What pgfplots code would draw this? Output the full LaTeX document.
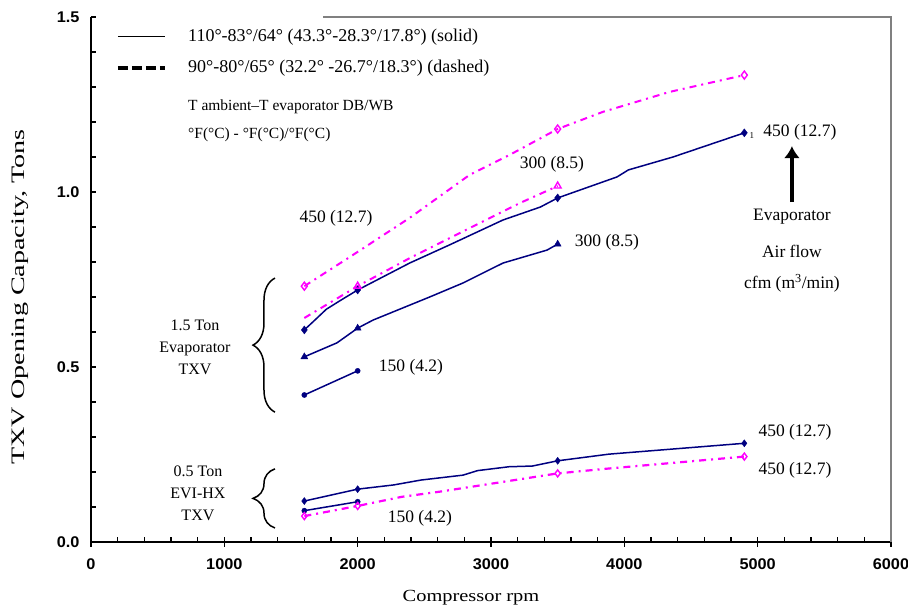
\documentclass[border=0pt]{standalone}
\usepackage{fontspec}
\setmainfont{Liberation Serif}
\setsansfont{Liberation Sans}
\usepackage{graphicx}
\usepackage{pgfplots}
\pgfplotsset{compat=1.18}
\usetikzlibrary{arrows.meta,decorations.pathreplacing}
\definecolor{navy}{RGB}{0,0,128}
\definecolor{mag}{RGB}{255,0,255}
\definecolor{framegray}{RGB}{128,128,128}
\newcommand{\lbl}{\fontsize{17.5}{21}\selectfont}
\newcommand{\leg}{\fontsize{18}{21}\selectfont}
\newcommand{\legs}{\fontsize{15.5}{18}\selectfont}
\newcommand{\side}{\fontsize{16}{22}\selectfont}
\newcommand{\tkf}{\fontsize{15.5}{16}\selectfont\sffamily\bfseries}

\begin{document}
\begin{tikzpicture}
\begin{axis}[
  scale only axis, width=800pt, height=525pt,
  xmin=0, xmax=6000, ymin=0, ymax=1.5,
  axis x line=bottom, axis y line=left,
  axis line style={-},
  x axis line style={line width=2pt},
  y axis line style={line width=1.6pt},
  xtick={0,1000,2000,3000,4000,5000,6000},
  ytick={0,0.5,1,1.5},
  minor x tick num=4, minor y tick num=4,
  tick align=inside, major tick length=5pt, minor tick length=5pt,
  tick style={black, line width=1.2pt},
  /pgf/number format/assume math mode=true,
  xticklabel={\tkf\scalebox{1.05}[1]{\pgfmathprintnumber[1000 sep={}]{\tick}}},
  yticklabel={\tkf\scalebox{1.05}[1]{\pgfmathprintnumber[fixed,fixed zerofill,precision=1]{\tick}}},
  xticklabel style={yshift=-13pt},
  yticklabel style={xshift=-8pt},
  xlabel={\scalebox{1.2}[1]{Compressor rpm}},
  xlabel style={font=\fontsize{17}{19}\selectfont, at={(rel axis cs:0.475,-0.1067)}, anchor=center},
  ylabel={\scalebox{1.48}[1]{TXV Opening Capacity, Tons}},
  ylabel style={font=\fontsize{19}{21}\selectfont, at={(rel axis cs:-0.0888,0.4667)}, anchor=center, rotate=0},
  clip=false,
]
% frame (grey top and right)
\draw[framegray, line width=1.6pt] (axis cs:1740,1.5) -- (axis cs:6000,1.5) -- (axis cs:6000,0);
% lower half of major x ticks
\pgfplotsinvokeforeach{0,1000,2000,3000,4000,5000,6000}{
  \draw[black, line width=1.2pt] (axis cs:#1,0) -- ++(0pt,-5pt);
}

% ---- 1.5 Ton evaporator TXV ----
% 450 solid
\addplot[navy, line width=1.5pt] coordinates {
 (1600,0.606) (1665,0.629) (1765,0.665) (1870,0.690) (2000,0.720) (2390,0.797)
 (2690,0.849) (3090,0.920) (3370,0.957) (3500,0.983) (3945,1.043) (4030,1.063)
 (4365,1.100) (4900,1.169)};
\addplot[navy, only marks, mark=diamond*, mark size=4pt] coordinates {
 (1600,0.606) (2000,0.720) (3500,0.983) (4900,1.169)};
% 300 solid
\addplot[navy, line width=1.5pt] coordinates {
 (1600,0.529) (1845,0.569) (2000,0.611) (2115,0.634) (2540,0.700) (2790,0.740)
 (3090,0.797) (3420,0.834) (3500,0.851)};
\addplot[navy, only marks, mark=triangle*, mark size=4pt] coordinates {
 (1600,0.529) (2000,0.611) (3500,0.851)};
% 150 solid
\addplot[navy, line width=1.5pt] coordinates {(1600,0.420) (2000,0.489)};
\addplot[navy, only marks, mark=*, mark size=2.6pt] coordinates {(1600,0.420) (2000,0.489)};
% 450 dashed
\addplot[mag, line width=2pt, dash pattern=on 7pt off 5pt on 2pt off 5pt] coordinates {
 (1600,0.731) (1940,0.814) (2390,0.926) (2840,1.049) (3140,1.106) (3500,1.180)
 (3840,1.229) (4340,1.286) (4900,1.334)};
\addplot[mag, only marks, mark=diamond, mark size=4pt, mark options={solid, line width=1.4pt, fill=white}] coordinates {
 (1600,0.731) (3500,1.180) (4900,1.334)};
% 300 dashed
\addplot[mag, line width=2pt, dash pattern=on 7pt off 5pt on 2pt off 5pt] coordinates {
 (1600,0.640) (2000,0.731) (2390,0.811) (2840,0.897) (3220,0.969) (3500,1.017)};
\addplot[mag, only marks, mark=triangle, mark size=4pt, mark options={solid, line width=1.4pt, fill=white}] coordinates {
 (2000,0.731) (3500,1.017)};

% ---- 0.5 Ton EVI-HX TXV ----
\addplot[navy, line width=1.5pt] coordinates {
 (1600,0.117) (2000,0.151) (2270,0.163) (2475,0.177) (2790,0.191) (2900,0.204)
 (3135,0.215) (3310,0.217) (3500,0.232) (3885,0.251) (4900,0.282)};
\addplot[navy, only marks, mark=diamond*, mark size=3.5pt] coordinates {
 (1600,0.117) (2000,0.151) (3500,0.232) (4900,0.282)};
\addplot[navy, line width=1.5pt] coordinates {(1600,0.0895) (2000,0.115)};
\addplot[navy, only marks, mark=*, mark size=2.6pt] coordinates {(1600,0.0895) (2000,0.115)};
\addplot[mag, line width=2.2pt, dash pattern=on 7pt off 5pt on 2pt off 5pt] coordinates {
 (1600,0.074) (2000,0.103) (2330,0.129) (2620,0.144) (3500,0.196) (3885,0.210) (4900,0.244)};
\addplot[mag, only marks, mark=diamond, mark size=3.5pt, mark options={solid, line width=1.4pt, fill=white}] coordinates {
 (1600,0.074) (2000,0.103) (3500,0.196) (4900,0.244)};

% ---- legend ----
\draw[black, line width=1.5pt] (axis cs:202.5,1.4437) -- (axis cs:555,1.4437);
\draw[black, line width=4pt, dash pattern=on 10pt off 4pt] (axis cs:202.5,1.3543) -- (axis cs:555,1.3543);
\node[anchor=west, font=\leg, inner sep=0pt] at (axis cs:727.5,1.4437) {110°-83°/64° (43.3°-28.3°/17.8°) (solid)};
\node[anchor=west, font=\leg, inner sep=0pt] at (axis cs:727.5,1.3543) {90°-80°/65° (32.2° -26.7°/18.3°) (dashed)};
\node[anchor=west, font=\legs, inner sep=0pt] at (axis cs:727.5,1.2429) {T ambient--T evaporator DB/WB};
\node[anchor=west, font=\legs, inner sep=0pt] at (axis cs:727.5,1.1629) {°F(°C) - °F(°C)/°F(°C)};

% ---- curve labels ----
\node[font=\lbl] at (axis cs:1837.5,0.926) {450 (12.7)};
\node[font=\lbl] at (axis cs:3457.5,1.080) {300 (8.5)};
\node[font=\lbl] at (axis cs:3870,0.857) {300 (8.5)};
\node[font=\lbl] at (axis cs:2400,0.500) {150 (4.2)};
\node[font=\fontsize{9}{9}\selectfont] at (axis cs:4957,1.160) {1};
\node[font=\lbl] at (axis cs:5317,1.171) {450 (12.7)};
\node[font=\lbl] at (axis cs:5280,0.314) {450 (12.7)};
\node[font=\lbl] at (axis cs:5280,0.206) {450 (12.7)};
\node[font=\lbl] at (axis cs:2467,0.069) {150 (4.2)};

% ---- airflow arrow and text ----
\draw[black, line width=3.5pt, -{Latex[length=12pt,width=16pt]}] (axis cs:5257,0.971) -- (axis cs:5257,1.131);
\node[font=\lbl] at (axis cs:5257,0.929) {Evaporator};
\node[font=\lbl] at (axis cs:5257,0.829) {Air flow};
\node[font=\lbl] at (axis cs:5257,0.740) {cfm (m\textsuperscript{3}/min)};

% ---- braces and group labels ----
\draw[black, line width=1.5pt, decorate, decoration={brace, amplitude=22pt}] (axis cs:1380,0.371) -- (axis cs:1380,0.754);
\draw[black, line width=1.5pt, decorate, decoration={brace, amplitude=22pt}] (axis cs:1380,0.040) -- (axis cs:1380,0.209);
\node[font=\side, align=center] at (axis cs:780,0.557) {1.5 Ton\\Evaporator\\TXV};
\node[font=\side, align=center] at (axis cs:802,0.140) {0.5 Ton\\EVI-HX\\TXV};
\end{axis}
\pgfresetboundingbox
\path[use as bounding box] (-91pt,-67pt) rectangle (817pt,542pt);
\end{tikzpicture}
\end{document}
